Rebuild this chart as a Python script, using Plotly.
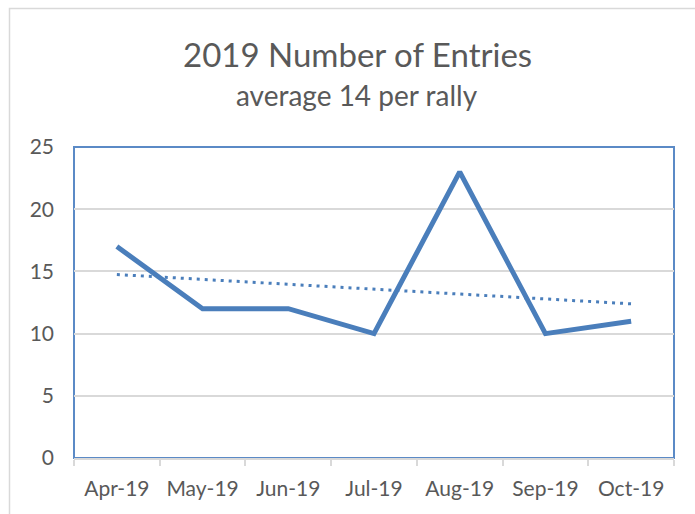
import numpy as np
import plotly.graph_objects as go

months = ["Apr-19", "May-19", "Jun-19", "Jul-19", "Aug-19", "Sep-19", "Oct-19"]
entries = [17, 12, 12, 10, 23, 10, 11]
y_ticks = [0, 5, 10, 15, 20, 25]
title_text = "2019 Number of Entries"
subtitle_text = "average 14 per rally"

# linear trendline (as Excel's linear trendline)
idx = np.arange(len(months))
slope, icpt = np.polyfit(idx, entries, 1)
trend = slope * idx + icpt

W, H = 695, 514
ML, MR, MT, MB = 74, 21, 147, 56
PW, PH = W - ML - MR, H - MT - MB

def px_x(p):
    return (p - ML) / PW

def px_y(p):
    return 1 - (p - MT) / PH

LINE = "#4A7EBB"
FONT = "Lato"

fig = go.Figure()
fig.add_trace(go.Scatter(x=months, y=entries, mode="lines",
                         line=dict(color=LINE, width=5), showlegend=False))
fig.add_trace(go.Scatter(x=months, y=trend, mode="lines",
                         line=dict(color=LINE, width=3, dash="3px,5px"), showlegend=False))

fig.update_layout(
    width=W, height=H,
    margin=dict(l=ML, r=MR, t=MT, b=MB),
    paper_bgcolor="white", plot_bgcolor="white",
    font=dict(family=FONT, color="#595959"),
    showlegend=False,
)
fig.update_xaxes(
    type="category", range=[-0.5, len(months) - 0.5],
    showgrid=False, showline=True, linecolor="#D9D9D9", linewidth=1.5,
    ticks="outside", tickson="boundaries", ticklen=6, tickcolor="#D9D9D9", tickwidth=1.5,
    tickfont=dict(size=21, color="#595959", family=FONT), ticklabelstandoff=11,
    zeroline=False,
)
fig.update_yaxes(
    range=[0, 25], tickvals=y_ticks, showgrid=True, gridcolor="#D9D9D9", gridwidth=1.5,
    showline=False, zeroline=False, ticks="",
    tickfont=dict(size=21, color="#595959", family=FONT), ticklabelstandoff=19,
)

fig.add_annotation(text=title_text, xref="paper", yref="paper", x=px_x(357), y=px_y(54),
                   xanchor="center", yanchor="middle", showarrow=False,
                   font=dict(size=33, color="#595959", family=FONT))
fig.add_annotation(text=subtitle_text, xref="paper", yref="paper", x=px_x(357), y=px_y(95),
                   xanchor="center", yanchor="middle", showarrow=False,
                   font=dict(size=28, color="#595959", family=FONT))

# plot-area border (blue)
fig.add_shape(type="rect", xref="paper", yref="paper", x0=0, x1=1, y0=0, y1=1,
              line=dict(color="#5B8AC6", width=2), layer="below")
# outer chart border (light gray), cropped at right/bottom
fig.add_shape(type="rect", xref="paper", yref="paper",
              x0=px_x(9.5), x1=px_x(720), y0=px_y(540), y1=px_y(8.5),
              line=dict(color="#D9D9D9", width=1.5), layer="below")

fig.write_html("out.html", config={"displayModeBar": False},
               post_script="document.body.style.margin='0';document.body.style.overflow='hidden';")
